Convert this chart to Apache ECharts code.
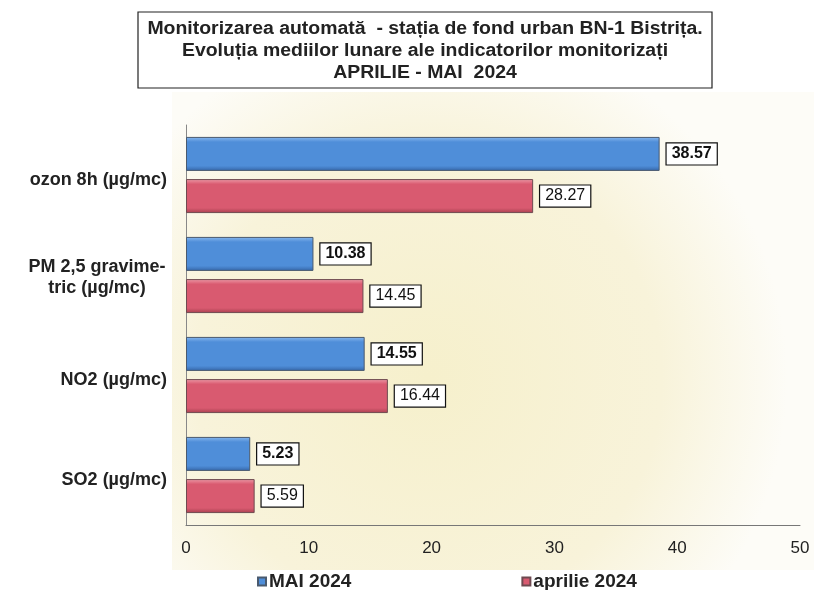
<!DOCTYPE html>
<html>
<head>
<meta charset="utf-8">
<script src="https://cdn.jsdelivr.net/npm/echarts@6/dist/echarts.min.js"></script>
<style>
  html, body { margin: 0; padding: 0; background: #fff; }
  #chart { width: 814px; height: 590px; }
</style>
</head>
<body>
<div id="chart"></div>
<script>
// indicatori (de sus in jos)
const categories = ["ozon 8h (µg/mc)", "PM 2,5 gravime-\ntric (µg/mc)", "NO2 (µg/mc)", "SO2 (µg/mc)"];
const seriesNames = ["MAI 2024", "aprilie 2024"];
const maiValues = [38.57, 10.38, 14.55, 5.23];
const aprilieValues = [28.27, 14.45, 16.44, 5.59];
const xTicks = [0, 10, 20, 30, 40, 50];

const titleText = "Monitorizarea automată  - stația de fond urban BN-1 Bistrița.\n" +
  "Evoluția mediilor lunare ale indicatorilor monitorizați\n" +
  "APRILIE - MAI  2024";

const font = "Liberation Sans, Arial, sans-serif";

function barGradient(top, mid, bottom) {
  return new echarts.graphic.LinearGradient(0, 0, 0, 1, [
    { offset: 0, color: top },
    { offset: 0.15, color: mid },
    { offset: 0.85, color: mid },
    { offset: 1, color: bottom },
  ]);
}

function labelStyle(bold) {
  return {
    show: true,
    position: "right",
    distance: 7,
    color: "#111",
    fontFamily: font,
    fontSize: 16,
    fontWeight: bold ? "bold" : "normal",
    backgroundColor: "#fff",
    borderColor: "#111",
    borderWidth: 1.2,
    padding: [3, 5, 2, 5],
    formatter: (p) => p.value.toFixed(2),
  };
}

const chart = echarts.init(document.getElementById("chart"));
chart.setOption({
  backgroundColor: "#fff",
  animation: false,
  graphic: [
    {
      type: "rect",
      z: -10,
      shape: { x: 172, y: 92, width: 642, height: 478 },
      style: {
        fill: new echarts.graphic.RadialGradient(0.4, 0.6, 0.75, [
          { offset: 0, color: "#f6f0cc" },
          { offset: 0.65, color: "#f8f3da" },
          { offset: 1, color: "#fdfcf7" },
        ]),
      },
    },
    {
      type: "rect",
      z: 10,
      shape: { x: 138, y: 12, width: 574, height: 76 },
      style: { fill: "#fff", stroke: "#222", lineWidth: 1.2 },
    },
    {
      type: "text",
      z: 11,
      x: 425,
      y: 51,
      scaleX: 1.08,
      style: {
        text: titleText,
        fill: "#222",
        font: "bold 18px " + font,
        lineHeight: 22,
        align: "center",
        verticalAlign: "middle",
      },
    },
  ],
  legend: {
    data: seriesNames,
    top: 567,
    left: 252,
    itemWidth: 8,
    itemHeight: 8,
    itemGap: 170,
    icon: "rect",
    textStyle: { fontFamily: font, fontSize: 19, fontWeight: "bold", color: "#222", padding: [0, 0, 0, -2] },
  },
  grid: { left: 186, right: 14, top: 125, bottom: 65 },
  xAxis: {
    type: "value",
    min: xTicks[0],
    max: xTicks[xTicks.length - 1],
    interval: 10,
    axisLine: { show: true, lineStyle: { color: "#777", width: 1 } },
    axisTick: { show: false },
    splitLine: { show: false },
    axisLabel: { color: "#222", fontFamily: font, fontSize: 17, margin: 15 },
  },
  yAxis: {
    type: "category",
    inverse: true,
    data: categories,
    axisLine: { show: true, lineStyle: { color: "#888", width: 1 } },
    axisTick: { show: false },
    axisLabel: {
      margin: 19,
      align: "right",
      formatter: (v) => {
        const lines = v.split("\n");
        if (lines.length > 1) return lines.map((l) => "{c|" + l + "}").join("\n");
        return "{r|" + v + "}";
      },
      rich: {
        r: { color: "#222", fontFamily: font, fontSize: 18, fontWeight: "bold", align: "right", padding: [10, 0, 0, 0] },
        c: { color: "#222", fontFamily: font, fontSize: 18, fontWeight: "bold", align: "center", width: 140, lineHeight: 21, padding: [5, 0, 0, 0] },
      },
    },
  },
  series: [
    {
      name: seriesNames[0],
      type: "bar",
      data: maiValues,
      barWidth: 34,
      barGap: "24%",
      itemStyle: {
        color: barGradient("#8ab8ee", "#4f8ed9", "#3566a8"),
        borderColor: "#4a5a6e",
        borderWidth: 1,
      },
      label: labelStyle(true),
    },
    {
      name: seriesNames[1],
      type: "bar",
      data: aprilieValues,
      barWidth: 34,
      barGap: "24%",
      itemStyle: {
        color: barGradient("#ee9aa8", "#d95a70", "#a8404f"),
        borderColor: "#6e4a50",
        borderWidth: 1,
      },
      label: labelStyle(false),
    },
  ],
});
</script>
</body>
</html>
